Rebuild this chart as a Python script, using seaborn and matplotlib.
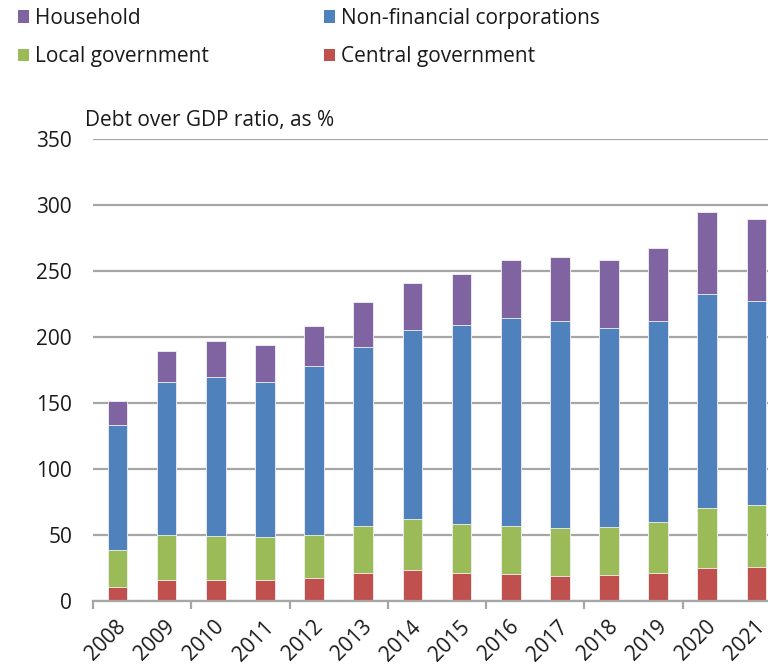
import numpy as np
import pandas as pd
import matplotlib
matplotlib.use("Agg")
import matplotlib.pyplot as plt
import matplotlib.transforms as mtransforms
from matplotlib.patches import Patch
from matplotlib.ticker import FixedLocator
import seaborn as sns

years = ["2008", "2009", "2010", "2011", "2012", "2013", "2014",
         "2015", "2016", "2017", "2018", "2019", "2020", "2021"]
central_gov = [10.8, 15.9, 16.2, 16.2, 17.7, 21.0, 23.7, 21.2, 20.2, 19.2, 19.9, 21.5, 25.3, 26.0]
local_gov = [27.8, 33.8, 32.8, 32.0, 32.3, 35.8, 38.7, 36.9, 36.6, 36.1, 36.2, 38.3, 45.4, 47.0]
non_fin_corp = [95.2, 116.0, 120.5, 118.2, 128.5, 136.1, 142.7, 151.5, 157.6, 156.6, 151.0, 152.1, 162.4, 154.8]
household = [17.9, 23.5, 27.5, 27.5, 29.8, 33.4, 35.7, 38.6, 44.4, 48.7, 51.7, 55.8, 61.8, 62.1]

series_names = ["Central government", "Local government", "Non-financial corporations", "Household"]
series_colors = ["#C0504D", "#9BBB59", "#4F81BD", "#8064A2"]

sns.set_theme(style="white")
plt.rcParams["font.family"] = ["Open Sans", "DejaVu Sans"]
FS = 15
TEXT = "#1a1a1a"

df = pd.DataFrame({
    "year": years,
    "Central government": central_gov,
    "Local government": local_gov,
    "Non-financial corporations": non_fin_corp,
    "Household": household,
})
cum = df[series_names].cumsum(axis=1)

fig = plt.figure(figsize=(7.68, 6.66), dpi=100)
ax = fig.add_axes([0.121, 0.0976, 0.896, 0.6932])

# stacked bars: draw cumulative totals from the top segment down
for name, color in reversed(list(zip(series_names, series_colors))):
    sns.barplot(x=df["year"], y=cum[name], color=color, saturation=1,
                width=0.4, edgecolor="#f2f2f2", linewidth=0.6, ax=ax)

ax.set_xlim(-0.5, 13.5)
ax.set_ylim(0, 350)
ax.set_yticks(np.arange(0, 351, 50))
ax.yaxis.grid(True, color="#a6a6a6", linewidth=1.6)
ax.set_axisbelow(True)
for s in ["left", "right", "top"]:
    ax.spines[s].set_visible(False)
ax.spines["bottom"].set_color("#a6a6a6")
ax.spines["bottom"].set_linewidth(1.6)

ax.set_xlabel("")
ax.set_ylabel("")
ax.tick_params(axis="y", length=0, pad=15, labelsize=FS, labelcolor=TEXT)
ax.tick_params(axis="x", which="major", length=0, pad=9, labelsize=FS, labelcolor=TEXT)
ax.xaxis.set_minor_locator(FixedLocator(np.arange(-0.5, 14, 2)))
ax.tick_params(axis="x", which="minor", length=6, width=1.6, color="#a6a6a6", bottom=True)
shift = mtransforms.ScaledTranslation(-2 / 100, -3 / 100, fig.dpi_scale_trans)
for lbl in ax.get_xticklabels():
    lbl.set_rotation(45)
    lbl.set_ha("right")
    lbl.set_va("top")
    lbl.set_rotation_mode("anchor")
    lbl.set_transform(lbl.get_transform() + shift)

fig.text(85 / 768, 1 - 126 / 666, "Debt over GDP ratio, as %", fontsize=FS,
         color=TEXT, ha="left", va="baseline")

handles = {n: Patch(facecolor=c, edgecolor="none") for n, c in zip(series_names, series_colors)}
order = ["Household", "Local government", "Non-financial corporations", "Central government"]
fig.legend([handles[n] for n in order], order, ncol=2, loc="upper left",
           bbox_to_anchor=(18 / 768, 1 - 8 / 666), frameon=False, fontsize=FS,
           handlelength=0.53, handleheight=0.53, handletextpad=0.3,
           columnspacing=5.5, labelspacing=0.82, borderpad=0, borderaxespad=0,
           labelcolor=TEXT)

fig.savefig("out.png", dpi=100)
